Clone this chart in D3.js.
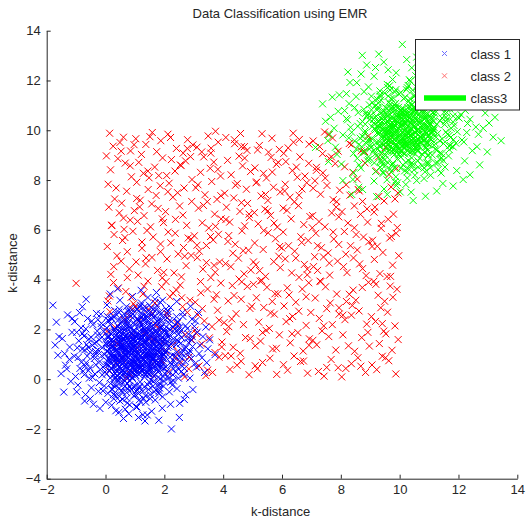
<!DOCTYPE html>
<html>
<head>
<meta charset="utf-8">
<script src="https://cdn.jsdelivr.net/npm/d3@7"></script>
<style>
  body { margin: 0; background: #fff; }
  text { font-family: "Liberation Sans", Arial, sans-serif; fill: #262626; }
</style>
</head>
<body>
<div id="chart"></div>
<script>
// chart text
const title = "Data Classification using EMR"
const xLabel = "k-distance"
const yLabel = "k-distance"
const xTicks = [-2, 0, 2, 4, 6, 8, 10, 12, 14]
const yTicks = [-4, -2, 0, 2, 4, 6, 8, 10, 12, 14]
const legendNames = ["class 1", "class 2", "class3"]

// class 1 points (blue cluster)
const class1 = [
[0.62,1.35],[1.48,0.21],[2.07,1.84],[0.13,0.77],[1.21,2.46],[-0.34,1.02],[0.88,-0.41],[1.93,0.66],[0.45,1.91],[1.67,1.12],
[0.97,0.55],[-0.72,0.18],[2.41,1.39],[1.05,1.68],[0.31,-0.23],[1.82,2.27],[0.59,0.94],[1.36,-0.67],[-0.15,2.11],[2.68,0.43],
[1.14,1.03],[0.76,2.73],[1.59,0.84],[0.02,1.46],[2.22,-0.12],[0.84,0.31],[1.73,1.57],[-1.06,0.92],[0.49,-0.88],[1.28,2.05],
[2.95,1.71],[0.37,1.19],[1.61,-0.29],[0.93,1.64],[-0.48,-0.35],[1.99,0.97],[0.68,2.38],[1.42,0.47],[0.19,0.62],[2.36,2.19],
[1.07,-1.12],[0.55,1.53],[1.88,1.28],[-0.27,1.77],[1.33,0.72],[0.81,-0.06],[2.54,0.88],[0.26,2.52],[1.52,1.94],[1.01,0.39],
[-0.91,1.54],[2.13,2.61],[0.71,0.11],[1.24,1.41],[0.08,-0.57],[1.79,0.28],[0.43,1.07],[3.21,1.36],[1.16,2.89],[0.64,0.68],
[1.69,-0.84],[-0.09,0.49],[2.01,1.62],[0.89,1.22],[1.45,2.34],[0.29,0.03],[2.78,2.03],[1.11,0.86],[-0.61,2.44],[1.57,0.58],
[0.52,1.74],[2.29,0.17],[0.98,-0.32],[1.37,1.49],[-1.32,0.41],[1.84,1.06],[0.16,1.27],[0.73,2.17],[2.47,1.52],[1.19,0.24],
[0.35,-1.27],[1.63,1.81],[0.91,0.73],[2.17,-0.51],[-0.38,0.83],[1.26,1.17],[0.58,0.36],[1.95,2.48],[0.04,2.06],[3.04,0.62],
[1.39,0.99],[0.79,1.44],[-0.21,-0.14],[1.72,2.79],[1.03,0.14],[2.61,1.17],[0.41,0.87],[1.54,-0.03],[0.67,1.99],[1.91,1.33],
[-0.79,1.21],[1.12,-0.58],[0.23,1.58],[2.33,0.74],[0.86,2.54],[1.49,0.52],[-0.02,0.29],[1.78,1.71],[0.54,-0.47],[1.22,3.06],
[2.84,1.03],[0.66,0.97],[1.41,1.87],[0.11,2.33],[1.97,0.09],[0.94,1.31],[-1.18,-0.09],[1.65,1.24],[0.32,0.51],[2.19,2.36],
[1.08,0.62],[0.47,2.81],[1.85,-0.19],[-0.45,1.36],[1.31,0.94],[0.72,-0.76],[2.56,1.94],[0.18,0.96],[1.58,2.12],[0.99,1.51],
[3.37,0.27],[0.61,0.24],[1.27,-1.43],[-0.12,1.69],[2.04,1.19],[0.83,0.79],[1.46,1.63],[0.39,-0.02],[1.74,0.41],[-0.66,0.66],
[1.17,2.26],[2.43,-0.38],[0.56,1.29],[1.35,0.18],[0.01,-0.93],[1.89,2.09],[0.77,1.83],[2.71,0.71],[1.04,1.09],[-0.31,2.64],
[1.62,0.77],[0.28,1.42],[2.26,1.47],[0.92,0.02],[1.51,2.67],[-0.98,1.88],[0.69,0.58],[1.94,-0.71],[0.14,0.34],[1.23,1.72],
[2.63,2.52],[0.46,-0.18],[1.81,1.43],[1.06,2.41],[-0.55,0.04],[1.34,0.63],[0.85,1.16],[2.09,0.33],[0.34,1.87],[1.71,-0.43],
[0.06,1.12],[1.43,2.01],[2.91,1.58],[0.74,0.44],[1.18,-0.11],[-1.47,1.63],[1.98,1.01],[0.51,2.22],[1.29,0.81],[0.22,-0.39],
[1.56,1.36],[2.38,0.58],[0.96,1.96],[-0.19,0.71],[1.64,0.13],[0.63,1.61],[2.11,2.73],[1.13,0.48],[0.38,2.58],[1.87,0.89],
[-0.68,-0.62],[1.38,1.26],[0.82,-1.03],[2.49,1.81],[0.12,1.91],[1.53,0.92],[0.95,0.27],[1.76,2.31],[0.44,0.74],[3.12,1.89],
[1.21,1.58],[-0.04,-0.27],[2.06,0.49],[0.71,1.32],[1.44,3.28],[0.27,0.16],[1.92,1.67],[0.87,0.66],[-1.23,0.79],[1.66,1.04],
[0.57,2.04],[2.31,-0.07],[1.09,1.38],[0.36,0.82],[1.83,0.61],[-0.37,1.44],[1.25,2.19],[2.74,1.28],[0.65,-0.29],[1.47,0.35],
[0.09,1.66],[1.97,2.21],[0.78,1.02],[1.32,-0.31],[2.58,0.31],[-0.83,2.06],[1.02,0.93],[0.48,1.47],[1.69,1.92],[0.21,0.44],
[2.16,1.33],[1.15,-0.83],[0.59,0.85],[1.86,0.02],[-0.26,1.18],[1.39,2.44],[0.92,1.76],[2.44,2.28],[0.33,-0.64],[1.59,1.21],
[1.01,0.17],[3.48,1.22],[0.17,2.19],[1.77,0.54],[0.69,1.23],[-0.58,0.34],[1.28,1.89],[2.03,1.09],[0.42,0.58],[1.51,-0.14],
[-1.62,0.96],[2.87,0.04],[0.05,2.98],[1.94,3.17],[0.61,-1.58],[2.21,-1.01],[-1.05,2.31],[3.06,2.34],[1.34,-1.68],[-0.71,-0.88],
[0.81,1.11],[1.41,0.66],[0.53,1.36],[1.19,1.88],[0.98,0.49],[1.61,1.49],[0.71,0.77],[1.27,1.05],[0.89,1.69],[1.52,0.87],
[0.44,1.01],[1.08,0.34],[1.73,1.31],[0.63,1.84],[1.36,0.97],[0.92,1.37],[1.17,0.71],[0.31,1.23],[1.84,0.76],[0.76,0.42],
[1.46,1.74],[1.01,1.21],[0.57,0.62],[1.24,0.58],[0.86,2.06],[1.66,1.58],[0.24,0.88],[1.12,1.63],[1.93,1.21],[0.68,1.14],
[1.31,0.24],[0.49,1.62],[1.57,1.02],[0.94,0.83],[1.14,2.12],[0.36,0.37],[1.78,1.88],[0.79,1.55],[1.49,0.41],[1.03,0.99],
[2.12,1.27],[0.15,1.39],[1.22,0.46],[0.87,1.26],[1.68,0.67],[0.55,2.32],[1.35,1.54],[0.73,0.19],[1.91,1.49],[1.06,1.82],
[0.41,0.71],[1.55,1.96],[0.97,0.64],[1.29,1.33],[0.62,1.08],[1.81,0.34],[0.19,1.81],[1.44,1.11],[0.84,0.96],[2.01,2.02],
[-0.13,0.94],[1.09,1.47],[0.66,1.73],[1.63,0.83],[0.95,2.27],[1.38,0.31],[0.27,1.54],[1.18,0.91],[1.72,1.96],[0.52,0.29],
[1.26,1.67],[0.83,0.12],[1.99,0.82],[0.39,1.18],[1.47,1.29],[0.74,2.44],[1.11,0.56],[0.58,1.39],[1.62,2.18],[0.99,0.73],
[2.27,0.97],[0.08,0.57],[1.33,1.99],[0.91,1.19],[1.54,0.68],[0.46,0.99],[1.07,1.43],[1.76,1.13],[0.69,0.51],[1.42,2.31],
[0.29,2.01],[1.87,1.59],[1.04,0.29],[0.61,1.57],[1.59,0.47],[0.86,1.43],[1.23,2.52],[0.47,0.47],[2.07,1.49],[1.16,1.16],
[0.73,0.91],[1.48,1.59],[0.35,1.76],[1.93,0.58],[1.02,1.71],[0.56,0.16],[1.37,1.38],[0.81,2.11],[1.69,1.01],[0.18,0.69],
[1.28,0.79],[0.94,1.58],[2.18,1.76],[0.51,1.27],[1.14,0.41],[1.79,2.39],[0.67,1.01],[1.41,0.89],[0.23,1.28],[1.86,1.22],
[0.88,0.63],[1.53,1.77],[0.42,2.13],[1.21,1.24],[1.97,0.42],[0.74,1.66],[1.06,0.81],[0.33,0.92],[1.64,1.39],[1.19,2.33],
[0.59,0.33],[2.31,1.62],[0.97,1.28],[1.45,0.59],[0.12,1.48],[1.71,0.97],[0.79,0.68],[1.33,1.81],[0.48,1.68],[1.92,1.84],
[-0.87,0.43],[2.52,2.07],[0.28,-0.79],[1.81,-0.58],[-0.43,2.19],[2.66,0.19],[0.71,2.91],[1.56,2.86],[-0.24,-0.49],[2.37,0.92],
[0.04,0.21],[1.14,-0.34],[2.09,2.46],[-0.52,1.08],[0.66,-0.08],[1.88,2.62],[0.22,2.41],[2.42,1.08],[1.27,-0.49],[-0.11,1.26],
[0.93,2.61],[2.21,0.67],[0.39,0.13],[1.68,2.55],[-0.73,1.73],[1.02,-0.63],[2.58,1.68],[0.16,0.05],[1.42,2.68],[0.75,-0.17],
[2.02,0.22],[-0.33,0.58],[1.31,2.79],[0.57,-0.52],[1.79,-0.21],[-0.96,1.26],[2.29,2.09],[0.45,2.69],[1.19,-0.92],[2.83,1.46],
[-0.06,1.91],[1.63,-0.09],[0.84,2.84],[2.14,0.04],[0.31,-0.31],[1.49,2.97],[-0.62,0.93],[2.46,0.43],[0.99,-0.24],[0.07,2.51],
[-1.79,2.97],[-1.42,-0.52],[3.28,0.86],[2.24,-2.0],[2.51,-1.54],[1.81,-1.65],[-1.29,2.58],[3.54,1.58],[0.41,3.63],[1.73,3.48],
[-1.14,1.88],[3.16,2.68],[0.46,-1.33],[2.97,-0.42],[-0.66,3.21],[1.42,-1.44],[-1.51,0.22],[3.72,0.98],[2.42,3.12],[-0.94,-0.24],
[0.16,3.42],[1.03,-1.11],[-1.71,1.37],[2.68,-0.82],[3.41,2.09],[-0.41,-1.01],[1.21,3.57],[2.89,2.93],[-1.36,0.56],[0.79,-1.39],
[1.07,1.05],[0.71,1.47],[1.36,0.73],[0.89,1.83],[1.58,1.31],[0.54,0.84],[1.22,1.61],[0.96,0.37],[1.77,1.54],[0.32,1.12],
[1.44,0.99],[0.83,1.28],[1.16,1.92],[0.62,0.53],[1.91,1.04],[1.04,1.54],[0.44,1.51],[1.51,0.18],[0.78,0.87],[1.29,2.07],
[0.12,0.86],[1.67,1.69],[0.91,0.08],[1.38,1.17],[0.58,1.92],[2.04,1.42],[0.81,1.06],[1.24,0.37],[0.36,1.63],[1.74,0.62],
[1.09,2.39],[0.64,0.77],[1.49,1.44],[0.22,1.03],[1.83,0.91],[0.99,1.14],[1.31,1.73],[0.51,0.41],[2.16,2.01],[0.87,1.52],
[1.62,0.22],[0.27,1.34],[1.12,0.78],[0.76,2.28],[1.41,1.07],[0.07,1.73],[1.93,1.66],[0.68,0.26],[1.21,1.36],[0.97,1.98],
[0.43,0.59],[1.56,1.86],[0.86,0.54],[1.34,1.48],[1.88,0.47],[0.52,1.43],[1.11,1.01],[0.72,1.76],[1.61,0.91],[1.01,0.64],
[2.08,1.13],[0.33,0.24],[1.47,2.14],[0.94,1.09],[1.26,0.52],[0.61,1.33],[1.72,1.27],[0.18,1.57],[1.17,1.79],[0.83,0.36],
[1.53,0.76],[0.47,2.04],[1.96,1.97],[1.04,0.87],[0.69,1.19],[1.32,0.09],[0.39,0.79],[1.81,1.51],[0.92,1.46],[1.43,2.49],
[-0.21,1.58],[2.34,1.87],[0.47,-0.36],[1.86,2.71],[-0.64,1.39],[2.61,0.52],[0.19,2.47],[1.51,-0.62],[-0.36,0.21],[2.17,2.24],
[0.88,2.67],[2.48,0.04],[-0.09,-0.47],[1.33,2.91],[-0.82,0.68],[2.79,1.62],[0.58,-0.81],[1.97,-0.28],[-0.47,2.33],[2.23,1.41],
[0.14,1.06],[1.64,2.47],[-0.18,0.38],[2.41,2.51],[0.72,-0.54],[1.29,-0.77],[-0.57,1.61],[2.69,1.21],[0.31,2.76],[1.83,-0.47],
[-0.93,0.87],[2.06,2.82],[0.43,-0.05],[1.12,2.73],[-0.28,1.93],[2.53,0.71],[0.96,-0.67],[1.71,2.24],[0.02,0.58],[2.27,-0.24],
[0.61,2.49],[1.46,-0.41],[-0.71,1.17],[2.87,1.13],[0.27,-0.62],[1.91,2.36],[-0.14,2.24],[2.39,0.29],[1.07,2.82],[0.38,0.31],
[-0.44,0.07],[2.14,1.71],[0.81,-0.29],[1.58,2.58],[-0.67,2.02],[2.92,0.83],[0.11,1.73],[1.37,-0.93],[-0.31,1.49],[2.46,2.31],
[0.69,2.29],[1.99,-0.09],[-0.03,0.99],[1.24,2.63],[-0.53,0.46],[2.56,1.44],[0.47,-0.69],[1.76,2.93],[0.09,2.37],[2.31,0.41],
[1.43,-0.22],[-0.78,1.84],[2.72,2.14],[0.36,0.06],[1.09,-0.45],[-0.16,2.61],[2.19,0.88],[0.84,2.72],[1.66,-0.51],[-0.39,0.94],
[2.02,1.93],[0.53,0.04],[1.31,2.39],[-0.58,1.28],[2.66,0.93],[0.22,-0.42],[1.87,2.04],[0.76,-0.39],[-0.26,2.39],[2.43,1.58],
[1.16,-0.28],[0.04,1.38],[2.11,0.12],[0.63,2.63],[1.52,-0.78],[-0.69,0.54],[2.82,1.81],[0.32,1.96],[1.79,0.07],[-0.11,0.17],
[0.92,2.46],[2.24,0.58],[0.17,-0.18],[1.62,2.81],[-0.49,1.68],[2.59,1.04],[0.74,-0.96],[1.38,2.54],[0.06,0.73],[2.36,2.02],
[1.04,-0.48],[-0.34,1.11],[2.47,1.96],[0.44,2.38],[1.84,-0.36],[-0.76,0.32],[2.96,1.31],[0.26,0.84],[1.19,2.97],[0.58,-0.12],
[1.74,1.83],[0.12,1.21],[1.41,0.26],[0.67,1.71],[2.04,1.58],[0.86,0.22],[1.28,1.52],[0.34,0.66],[1.96,0.71],[0.99,2.17],
[1.56,1.08],[0.49,1.89],[1.18,0.62],[0.71,2.08],[1.89,1.37],[0.28,0.97],[1.49,2.19],[0.93,0.47],[1.68,0.54],[0.57,1.24],
[1.23,0.88],[0.81,1.71],[1.64,1.62],[0.38,1.43],[1.13,0.19],[1.92,0.93],[0.64,1.04],[1.36,1.87],[0.89,1.01],[1.57,0.38],
[0.19,0.44],[2.08,1.74],[1.02,1.36],[0.54,0.73],[1.47,1.17],[0.78,2.01],[1.81,0.66],[0.41,1.66],[1.26,0.42],[0.97,1.88],
[-1.22,1.29],[3.09,0.48],[-0.98,-0.51],[3.31,1.71],[0.67,-1.21],[1.68,3.21],[-1.13,2.44],[2.73,-0.63],[0.21,-1.05],[2.21,2.88],
[-0.88,2.67],[3.18,1.03],[1.93,-1.17],[-1.39,1.02],[0.92,3.32],[2.52,-0.97],[-0.52,-0.79],[3.02,2.12],[-1.58,1.71],[1.57,-1.29],
[0.49,3.17],[2.62,2.67],[-1.02,0.11],[3.44,0.66],[1.12,-1.54],[-0.79,2.91],[2.94,2.41],[-0.19,-1.18],[1.86,3.09],[-1.67,2.29]
]

// class 2 points (red, spread over the middle square)
const class2 = [
[0.12,0.34],[0.57,0.81],[0.83,0.22],[0.36,0.63],[0.71,0.05],[0.24,1.47],[0.66,1.18],[0.91,1.76],[0.05,1.92],[0.48,1.31],
[0.33,2.08],[0.79,2.56],[0.15,2.71],[0.62,2.39],[0.08,3.14],[0.44,3.67],[0.87,3.29],[0.27,3.88],[0.69,3.52],[0.95,3.03],
[0.18,4.21],[0.53,4.74],[0.81,4.43],[0.39,4.96],[0.06,5.33],[0.29,5.81],[0.74,5.12],[0.58,5.57],[0.93,5.94],
[0.21,6.17],[0.47,6.68],[0.84,6.39],[0.11,6.91],[0.63,6.02],[0.98,6.77],[0.31,7.24],[0.72,7.55],[0.09,7.83],[0.55,7.07],
[0.17,8.41],[0.42,8.86],[0.88,8.13],[0.67,8.68],[0.03,8.97],[0.26,9.36],[0.61,9.72],[0.85,9.17],[0.14,9.88],[0.49,9.51],
[1.21,0.47],[1.64,0.13],[1.89,0.76],[1.38,0.92],[1.07,1.24],[1.52,1.63],[1.81,1.08],[1.33,1.89],[1.96,1.51],
[1.15,2.36],[1.46,2.81],[1.73,2.17],[1.59,2.64],[1.02,2.93],[1.27,3.42],[1.68,3.06],[1.91,3.71],[1.44,3.94],
[1.11,4.18],[1.36,4.63],[1.77,4.37],[1.58,4.89],[1.93,4.07],[1.04,4.71],[1.24,5.26],[1.62,5.71],[1.87,5.43],[1.41,5.97],
[1.09,6.34],[1.53,6.12],[1.79,6.86],[1.31,6.57],[1.97,6.29],[1.18,7.19],[1.45,7.62],[1.72,7.38],[1.06,7.91],[1.86,7.77],[1.57,7.04],
[1.29,8.27],[1.67,8.52],[1.94,8.89],[1.13,8.71],[1.48,8.09],[1.37,9.43],[1.74,9.14],[1.03,9.66],[1.59,9.91],[1.88,9.58],[1.22,9.03],
[2.14,0.28],[2.57,0.67],[2.83,0.41],[2.36,0.86],[2.69,0.09],[2.28,1.36],[2.71,1.79],[2.05,1.12],[2.94,1.57],
[2.43,2.23],[2.78,2.68],[2.11,2.47],[2.62,2.91],[2.31,2.06],[2.19,3.31],[2.54,3.78],[2.87,3.17],[2.41,3.58],[2.06,3.92],
[2.33,4.27],[2.74,4.56],[2.09,4.83],[2.58,4.11],[2.91,4.97],[2.22,5.48],[2.47,5.03],[2.81,5.67],[2.13,5.91],[2.65,5.29],
[2.38,6.42],[2.76,6.18],[2.04,6.73],[2.52,6.96],[2.29,7.31],[2.67,7.68],[2.93,7.14],[2.16,7.87],[2.45,7.49],
[2.36,8.36],[2.72,8.77],[2.08,8.18],[2.57,8.58],[2.89,8.94],[2.24,8.82],[2.41,9.27],[2.79,9.62],[2.12,9.84],[2.64,9.08],[2.97,9.41],
[3.18,0.53],[3.64,0.27],[3.86,0.88],[3.41,0.14],[3.27,1.41],[3.72,1.07],[3.09,1.83],[3.53,1.66],[3.95,1.29],
[3.36,2.34],[3.81,2.77],[3.14,2.58],[3.62,2.11],[3.24,3.47],[3.69,3.21],[3.92,3.86],[3.47,3.62],[3.05,3.09],[3.77,3.39],
[3.31,4.42],[3.58,4.08],[3.88,4.71],[3.12,4.88],[3.73,4.29],[3.43,5.37],[3.84,5.82],[3.19,5.14],[3.66,5.59],[3.02,5.76],
[3.29,6.28],[3.71,6.63],[3.51,6.07],[3.93,6.44],[3.16,6.87],[3.38,7.41],[3.79,7.22],[3.07,7.69],[3.61,7.94],[3.46,7.13],
[3.23,8.31],[3.68,8.72],[3.91,8.16],[3.34,8.93],[3.56,8.47],[3.11,9.32],[3.49,9.77],[3.83,9.52],[3.27,9.13],[3.74,9.96],[3.59,9.28],
[4.23,0.39],[4.61,0.72],[4.88,0.18],[4.07,0.94],[4.47,0.56],[4.34,1.28],[4.76,1.67],[4.12,1.91],[4.58,1.04],
[4.29,2.42],[4.69,2.19],[4.91,2.84],[4.44,2.63],[4.03,2.27],[4.37,3.36],[4.82,3.72],[4.17,3.14],[4.63,3.91],
[4.26,4.52],[4.71,4.23],[4.52,4.86],[4.08,4.64],[4.94,4.38],[4.41,5.42],[4.86,5.18],[4.19,5.77],[4.64,5.96],[4.33,5.06],
[4.22,6.31],[4.57,6.74],[4.89,6.49],[4.11,6.91],[4.73,6.16],[4.36,7.28],[4.79,7.63],[4.05,7.47],[4.62,7.09],[4.48,7.86],
[4.27,8.21],[4.66,8.57],[4.93,8.34],[4.15,8.79],[4.54,8.96],[4.39,9.46],[4.81,9.19],[4.09,9.71],[4.59,9.87],[4.72,9.34],
[5.16,0.42],[5.59,0.84],[5.82,0.19],[5.34,0.67],[5.27,1.53],[5.68,1.21],[5.91,1.78],[5.09,1.34],[5.46,1.96],
[5.21,2.29],[5.74,2.61],[5.38,2.88],[5.57,2.04],[5.13,3.27],[5.49,3.69],[5.86,3.43],[5.31,3.96],[5.67,3.12],[5.03,3.81],
[5.24,4.36],[5.72,4.72],[5.44,4.13],[5.89,4.94],[5.11,4.59],[5.36,5.21],[5.78,5.64],[5.07,5.47],[5.53,5.88],[5.92,5.33],
[5.19,6.24],[5.61,6.58],[5.84,6.11],[5.42,6.83],[5.06,6.69],[5.29,7.36],[5.71,7.71],[5.52,7.18],[5.94,7.52],[5.14,7.92],
[5.37,8.27],[5.81,8.63],[5.08,8.49],[5.63,8.91],[5.47,8.08],[5.23,9.39],[5.66,9.68],[5.91,9.23],[5.32,9.86],[5.54,9.12],
[6.19,0.36],[6.63,0.71],[6.87,0.24],[6.41,0.93],[6.05,0.58],[6.28,1.46],[6.72,1.13],[6.54,1.87],[6.93,1.62],
[6.14,2.31],[6.57,2.73],[6.82,2.16],[6.36,2.52],[6.07,2.94],[6.24,3.38],[6.69,3.62],[6.47,3.09],[6.91,3.87],
[6.33,4.27],[6.76,4.61],[6.11,4.83],[6.58,4.09],[6.86,4.42],[6.22,5.36],[6.64,5.72],[6.43,5.14],[6.89,5.57],[6.04,5.91],
[6.31,6.44],[6.74,6.21],[6.17,6.78],[6.56,6.97],[6.95,6.53],[6.27,7.31],[6.68,7.64],[6.42,7.12],[6.84,7.89],[6.09,7.56],
[6.35,8.38],[6.78,8.16],[6.13,8.74],[6.61,8.93],[6.49,8.52],[6.21,9.29],[6.59,9.63],[6.92,9.44],[6.38,9.88],[6.06,9.07],
[7.24,0.31],[7.67,0.79],[7.91,0.46],[7.43,0.12],[7.18,1.38],[7.59,1.71],[7.83,1.17],[7.36,1.94],[7.05,1.56],
[7.27,2.44],[7.71,2.19],[7.52,2.83],[7.94,2.61],[7.13,3.26],[7.48,3.71],[7.86,3.42],[7.32,3.92],[7.64,3.06],
[7.21,4.37],[7.62,4.18],[7.89,4.74],[7.41,4.91],[7.07,4.52],[7.34,5.28],[7.76,5.63],[7.15,5.86],[7.57,5.07],[7.93,5.41],
[7.26,6.33],[7.69,6.68],[7.46,6.12],[7.84,6.91],[7.04,6.57],[7.31,7.43],[7.74,7.21],[7.53,7.78],[7.96,7.59],[7.12,7.97],
[7.39,8.29],[7.81,8.66],[7.17,8.51],[7.61,8.87],[7.47,8.08],[7.28,9.34],[7.72,9.69],[7.91,9.16],[7.45,9.93],[7.06,9.57],
[8.17,0.43],[8.58,0.86],[8.84,0.27],[8.36,0.62],[8.03,0.09],[8.26,1.34],[8.71,1.67],[8.47,1.12],[8.92,1.88],
[8.14,2.39],[8.62,2.74],[8.88,2.21],[8.39,2.96],[8.07,2.57],[8.29,3.41],[8.73,3.68],[8.51,3.17],[8.94,3.89],
[8.21,4.28],[8.64,4.63],[8.43,4.87],[8.86,4.16],[8.09,4.52],[8.33,5.36],[8.77,5.71],[8.12,5.93],[8.56,5.19],[8.95,5.52],
[8.24,6.27],[8.67,6.62],[8.46,6.08],[8.89,6.84],[8.04,6.73],[8.31,7.39],[8.74,7.14],[8.18,7.81],[8.59,7.62],
[8.41,8.31],[8.82,8.69],[8.13,8.53],[8.36,9.42],[8.69,9.17],[8.93,9.76],
[9.22,0.38],[9.63,0.74],[9.87,0.21],[9.41,0.92],[9.06,0.57],[9.31,1.43],[9.74,1.16],[9.53,1.82],[9.95,1.59],
[9.18,2.32],[9.59,2.69],[9.84,2.14],[9.36,2.87],[9.04,2.51],[9.27,3.37],[9.68,3.74],[9.49,3.13],[9.91,3.61],[9.12,3.93],
[9.33,4.24],[9.76,4.58],[9.14,4.81],[9.57,4.12],[9.97,4.96],[9.24,5.34],[9.66,5.67],[9.43,5.09],[9.88,5.86],[9.08,5.58],
[9.38,6.26],[9.79,6.63],[9.16,6.91],[9.61,6.42],[9.92,6.09],[9.29,7.34],[9.71,7.72],[9.47,7.16],[9.94,7.48],
[9.21,8.37],[9.64,8.22],[9.52,9.31],
[3.57,5.73],[6.82,3.31],[1.44,8.36],[8.17,5.02],[4.92,1.63],[2.63,6.59],[7.38,9.06],[5.26,3.94],[0.74,4.08],[9.41,2.23],
[6.11,7.83],[3.04,1.97],[8.56,8.04],[1.87,5.12],[5.73,6.27],[4.38,9.62],[7.94,2.87],[2.29,3.46],[9.13,6.71],[0.36,7.68],
[6.47,4.86],[3.82,8.43],[5.09,0.54],[8.74,4.44],[1.16,6.92],[7.03,6.08],[4.61,3.21],[2.78,9.27],[9.69,4.13],[5.87,8.71],
[0.92,2.81],[6.92,1.36],[3.33,6.98],[8.29,9.47],[4.16,5.53],[1.67,0.68],[7.61,4.66],[5.44,7.42],[2.46,1.11],[9.28,8.93],
[6.26,2.43],[3.69,4.57],[8.91,6.31],[0.53,9.16],[4.83,7.06],[7.17,8.39],[1.98,4.29],[5.61,2.66],[9.84,7.24],[2.94,8.02],
[6.67,5.49],[4.27,0.93],[8.42,3.58],[1.31,3.73],[7.86,7.13],[3.11,5.38],[5.17,9.21],[9.52,0.86],[0.21,6.19],[6.04,6.87],
[4.54,4.02],[2.12,7.53],[8.07,1.78],[7.29,3.94],[3.86,2.37],[5.94,4.48],[1.51,9.74],[9.06,5.33],[6.39,9.52],[2.69,4.94],
[4.73,8.88],[7.52,0.47],[0.66,5.69],[8.63,7.56],[3.47,0.36],[5.38,5.97],[1.79,2.04],[9.77,3.29],[6.58,7.39],[2.37,5.86],
[4.09,6.41],[7.74,5.91],[5.81,1.24],[0.13,3.34],[8.36,2.57],[3.58,9.08],[6.91,8.67],[1.06,7.26],[9.37,6.06],[4.97,2.93],
[2.84,0.89],[7.06,7.67],[5.52,6.76],[8.97,1.33],[0.84,8.57],[6.18,3.67],[3.23,3.92],[4.42,7.79],[9.61,9.58],[1.93,6.44],
[7.42,2.14],[5.03,4.71],[2.54,8.61],[8.52,5.81],[3.96,1.49],[6.73,0.73],[0.42,1.42],[4.68,5.16],[9.19,3.81],[1.38,4.87],
[5.67,8.32],[7.93,6.52],[3.14,7.81],[6.34,1.82],[2.07,2.63],[8.81,9.14],[4.31,3.76],[0.97,9.42],[5.99,5.27],[7.68,8.93],
[3.74,6.14],[9.46,1.93],[1.63,1.58],[6.86,4.19],[2.91,5.62],[8.19,3.12],[4.88,6.63],[5.34,1.87],[0.28,4.52],[7.21,5.36],
[3.43,4.68],[6.52,8.11],[1.24,5.51],[8.68,0.52],[4.19,2.11],[9.89,8.47],[2.21,9.71],[5.76,3.43],[7.57,9.83],[0.61,6.47],
[6.98,2.68],[3.29,2.83],[8.46,6.96],[4.62,9.34],[1.81,8.18],[5.12,7.89],[9.72,5.73],[2.59,3.27],[7.11,4.92],[3.92,7.37],
[-1.0,3.85]
]

// class 3 points (green cluster)
const class3 = [
[9.74,10.31],[10.62,9.15],[11.21,10.78],[9.23,9.52],[10.35,11.27],[8.81,9.88],[10.04,8.47],[11.07,9.63],[9.51,10.92],[10.83,10.03],
[10.12,9.41],[8.43,9.07],[11.56,10.36],[10.19,10.64],[9.38,8.72],[10.96,11.18],[9.67,9.89],[10.52,8.19],[8.97,11.02],[11.82,9.33],
[10.28,9.94],[9.87,11.63],[10.71,9.75],[9.11,10.43],[11.37,8.83],[9.95,9.22],[10.88,10.51],[8.07,9.81],[9.57,8.01],[10.41,11.01],
[12.09,10.62],[9.46,10.11],[10.76,8.58],[10.02,10.55],[8.62,8.61],[11.13,9.92],[9.79,11.29],[10.57,9.36],[9.31,9.53],[11.48,11.12],
[10.21,7.82],[9.63,10.44],[11.02,10.19],[8.84,10.68],[10.47,9.64],[9.92,8.86],[11.68,9.79],[9.34,11.43],[10.66,10.85],[10.16,9.28],
[8.19,10.47],[11.27,11.52],[9.82,9.02],[10.37,10.32],[9.18,8.34],[10.94,9.19],[9.52,9.98],[12.31,10.27],[10.29,11.8],[9.76,9.57],
[10.83,8.06],[9.01,9.41],[11.16,10.53],[10.02,10.13],[10.59,11.25],[9.41,8.93],[11.92,10.94],[10.24,9.77],[8.52,11.35],[10.71,9.49],
[9.66,10.65],[11.43,9.06],[10.11,8.61],[10.49,10.38],[7.82,9.32],[10.98,9.97],[9.27,10.18],[9.86,11.08],[11.61,10.43],[10.33,9.13],
[9.47,7.64],[10.77,10.72],[10.05,9.62],[11.31,8.42],[8.74,9.74],[10.39,10.08],[9.72,9.27],[11.09,11.39],[9.16,10.97],[12.18,9.53],
[10.52,9.9],[9.93,10.35],[8.91,8.77],[10.86,11.69],[10.17,9.05],[11.75,10.08],[9.55,9.78],[10.68,8.88],[9.81,10.9],[11.04,10.24],
[8.33,10.12],[10.26,8.33],[9.37,10.49],[11.45,9.65],[9.98,11.45],[10.61,9.43],[9.12,9.2],[10.92,10.62],[9.68,8.44],[10.36,11.97],
[11.96,9.94],[9.78,9.88],[10.53,10.78],[9.24,11.24],[11.11,9.0],[10.07,10.22],[8.95,8.82],[10.79,10.15],[9.44,9.42],[11.33,11.27],
[10.22,9.53],[9.59,11.72],[10.97,8.71],[8.66,10.27],[10.44,9.85],[9.84,7.93],[11.71,10.85],[9.29,9.87],[10.69,11.03],[10.12,10.42],
[12.47,9.18],[9.73,9.15],[10.39,7.51],[9.01,10.6],[11.18,10.1],[9.96,9.7],[10.58,10.54],[9.52,8.98],[10.87,9.32],[8.47,9.57],
[10.31,11.17],[11.54,8.52],[9.68,10.2],[10.47,9.09],[9.13,7.96],[11.02,11.0],[9.89,10.74],[11.83,9.62],[10.16,10.0],[8.79,11.55],
[10.74,9.68],[9.4,10.33],[11.37,10.38],[10.04,8.92],[10.63,11.58],[8.13,10.79],[9.81,9.49],[11.05,8.19],[9.26,9.25],[10.35,10.63],
[11.74,11.43],[9.58,8.72],[10.93,10.34],[10.18,11.32],[8.56,8.87],[10.46,9.54],[9.97,10.07],[11.21,9.24],[9.46,10.78],[10.83,8.48],
[9.18,10.03],[10.54,10.92],[12.02,10.49],[9.86,9.35],[10.29,8.79],[7.65,10.52],[11.09,9.92],[9.63,11.13],[10.4,9.72],[9.34,8.51],
[10.68,10.27],[11.49,9.47],[10.07,10.87],[8.92,9.6],[10.76,9.04],[9.74,10.52],[11.22,11.64],[10.24,9.39],[9.49,11.49],[10.98,9.8],
[8.44,8.29],[10.49,10.17],[9.93,7.89],[11.6,10.71],[9.23,10.82],[10.64,9.83],[10.06,9.18],[10.87,11.22],[9.55,9.65],[12.23,10.8],
[10.32,10.49],[8.97,9.24],[11.17,9.4],[9.82,10.23],[10.55,12.19],[9.38,9.07],[11.03,10.58],[9.98,9.57],[8.27,9.69],[10.77,10.05],
[9.68,11.04],[11.42,8.9],[10.2,10.28],[9.47,9.73],[10.94,9.52],[8.74,10.35],[10.36,11.09],[11.85,10.19],[9.76,8.62],[10.58,9.26],
[9.2,10.57],[11.08,11.11],[9.89,9.93],[10.43,8.6],[11.69,9.22],[8.28,11.07],[10.13,9.84],[9.59,10.38],[10.8,10.83],[9.32,9.35],
[11.27,10.24],[10.26,8.08],[9.7,9.76],[10.97,9.02],[9.15,10.08],[10.5,11.35],[10.03,10.67],[11.55,11.19],[9.44,8.27],[10.7,10.12],
[10.12,9.08],[12.59,10.13],[9.28,11.09],[10.88,9.45],[9.8,10.14],[8.53,9.25],[10.39,10.79],[11.14,10.0],[9.53,9.49],[10.62,8.77],
[7.38,11.06],[7.95,11.42],[8.31,11.92],[8.69,12.26],[9.18,12.52],[9.88,12.31],[10.09,13.45],[8.61,7.71],[9.22,7.33],[10.88,7.35],
[13.18,9.72],[12.91,10.69],[13.45,9.58],[12.72,8.61],[11.54,12.38],[12.07,11.91],[8.73,13.01],[10.72,12.77],[11.27,12.66],[7.14,9.31],
[7.58,8.74],[8.07,7.98],[11.82,7.76],[12.39,8.21],[12.76,11.26],[10.41,12.51],[9.46,12.74],[11.96,12.16],[7.77,10.08],[12.98,9.13],
[10.18,9.77],[9.82,10.19],[10.47,9.42],[9.99,10.56],[10.69,9.98],[9.64,9.58],[10.31,10.34],[10.06,9.21],[10.87,10.47],[9.43,10.01],
[10.56,10.69],[9.91,9.31],[10.28,10.91],[9.72,9.93],[11.02,9.66],[10.14,10.31],[9.56,10.63],[10.61,9.19],[9.87,9.71],[10.39,10.07],
[9.23,9.89],[10.78,10.24],[10.02,9.08],[10.49,10.58],[9.69,10.89],[11.16,10.01],[9.93,9.52],[10.35,9.56],[9.47,9.43],[10.84,10.62],
[10.11,10.44],[9.61,9.99],[10.64,9.63],[10.22,10.73],[9.78,9.11],[10.93,9.89],[9.29,10.37],[10.42,10.24],[10.01,9.82],[11.08,10.49],
[9.51,9.61],[10.27,9.37],[9.86,10.44],[10.73,10.91],[10.09,9.64],[9.37,10.21],[10.52,9.94],[9.77,10.73],[11.24,9.72],[10.19,9.47],
[9.94,10.09],[10.66,10.28],[9.58,9.28],[10.37,9.79],[10.04,10.81],[9.08,9.64],[10.91,9.31],[10.27,10.16],[9.71,9.76],[10.48,10.92],
[10.82,9.59],[9.46,10.52],[10.14,9.91],[9.88,9.44],[10.59,10.41],[9.31,9.37],[11.03,10.29],[10.21,10.63],[9.79,10.27],[10.43,9.31],
[9.64,10.15],[10.71,9.71],[10.08,10.22],[9.97,9.01],[10.34,10.51],[9.53,9.84],[10.97,10.11],[10.16,9.62],[9.82,11.01],[10.62,9.99],
[9.39,10.72],[10.44,9.17],[10.03,9.57],[11.12,10.71],[9.74,10.04],[10.31,9.88],[9.61,9.17],[10.89,9.84],[10.26,10.38],[9.92,10.62],
[10.57,9.51],[9.49,9.98],[10.13,10.69],[10.76,10.36],[9.84,9.62],[10.38,9.99],[9.27,10.34],[10.94,9.47],[10.06,10.17],[9.69,9.35],
[8.62,9.43],[11.58,10.52],[9.04,11.37],[11.37,9.07],[8.88,10.56],[10.67,11.54],[9.71,8.33],[11.82,10.33],[8.47,10.91],[10.98,8.64],
[9.33,11.58],[11.45,11.02],[8.76,9.14],[10.26,11.71],[11.66,8.97],[9.14,8.69],[10.49,8.41],[8.37,9.92],[11.27,11.76],[9.58,11.84],
[12.12,9.61],[8.94,11.74],[10.83,11.91],[11.97,10.54],[8.68,8.48],[9.87,8.13],[11.41,8.28],[8.23,10.42],[10.33,12.03],[12.28,9.91],
[9.06,10.14],[11.29,9.87],[9.49,8.81],[10.61,11.24],[8.99,9.61],[11.51,10.72],[9.67,11.61],[10.97,8.97],[9.17,10.51],[11.13,11.48],
[8.83,10.24],[10.42,8.69],[11.63,9.84],[9.36,11.21],[10.86,8.33],[9.21,8.97],[11.36,10.94],[9.76,12.04],[10.58,7.98],[8.59,10.71],
[11.88,11.04],[9.51,8.58],[10.23,11.63],[11.72,9.39],[8.79,9.11],[10.73,11.78],[9.04,10.82],[11.22,8.68],[9.89,7.78],[12.39,10.44],
[10.24,10.11],[9.76,9.69],[10.51,10.48],[10.09,9.35],[9.57,10.36],[10.78,9.78],[10.33,10.96],[9.86,9.87],[10.64,9.37],[10.02,10.68],
[9.42,9.81],[10.87,10.18],[10.19,9.56],[9.63,10.79],[10.46,10.23],[9.95,9.27],[11.01,10.91],[10.29,9.74],[9.74,10.46],[10.55,9.61],
[10.13,10.86],[9.52,9.49],[10.72,10.56],[10.38,9.12],[9.91,10.33],[11.17,9.52],[9.66,10.08],[10.21,10.27],[10.91,9.89],[9.81,9.24],
[10.45,10.76],[9.35,10.14],[10.68,9.33],[10.06,10.52],[9.97,9.79],[10.82,10.74],[9.59,9.97],[10.36,9.47],[9.88,10.96],[11.05,10.38],
[8.97,10.42],[11.26,9.21],[9.44,8.32],[10.88,11.34],[8.71,9.34],[11.61,10.87],[9.82,8.49],[10.44,11.61],[9.07,11.11],[11.48,8.79],
[10.21,8.71],[8.82,9.97],[11.14,11.43],[9.61,11.37],[11.73,9.71],[8.94,8.93],[10.63,8.52],[9.27,10.93],[11.36,9.58],[10.04,11.52],
[8.58,10.16],[10.92,8.69],[9.71,11.28],[11.53,10.23],[9.18,9.06],[10.51,11.41],[11.82,10.57],[9.41,8.61],[10.76,10.98],[8.78,10.84],
[11.04,8.49],[9.57,10.87],[10.29,8.46],[11.41,11.17],[8.66,9.68],[10.86,9.12],[9.33,11.36],[11.68,9.37],[10.14,11.27],[9.02,9.32],
[10.58,11.72],[11.29,8.69],[9.77,8.68],[10.97,11.47],[8.91,10.62],[11.57,9.93],[9.49,9.04],[10.36,8.62],[10.83,11.58],[9.13,10.29],
[11.19,10.68],[9.83,11.54],[10.41,8.89],[8.87,9.48],[11.44,10.49],[9.36,8.79],[10.69,11.14],[11.91,9.48],[9.66,11.79],[10.17,8.37],
[9.92,10.23],[10.46,9.66],[9.71,9.52],[10.81,10.49],[10.27,9.19],[9.54,10.29],[11.07,9.74],[10.09,10.71],[9.39,9.71],[10.64,10.04],
[10.35,9.34],[9.96,10.92],[10.72,9.52],[9.67,10.24],[11.14,10.36],[10.11,9.72],[9.48,9.21],[10.53,10.83],[9.88,9.38],[10.94,10.18],
[10.22,10.06],[9.58,10.57],[10.86,9.93],[10.03,9.48],[9.74,10.88],[10.62,10.61],[9.32,9.89],[10.44,9.82],[11.01,9.42],[9.85,10.43],
[10.31,10.74],[9.62,9.47],[10.78,9.68],[10.16,10.57],[9.45,10.41],[10.57,9.27],[10.94,10.68],[9.79,10.11],[10.39,9.61],[9.98,9.92],
[10.67,10.37],[9.53,9.66],[10.24,9.91],[11.12,10.08],[9.91,10.56],[10.48,10.14],[9.71,9.83],[10.89,9.64],[10.07,10.29],[9.42,10.62],
[10.59,9.97],[9.86,9.19],[10.32,10.58],[10.76,10.79],[9.64,10.01],[10.18,9.41],[11.06,9.91],[9.97,10.47],[10.42,10.39],[9.28,10.06],
[7.62,9.84],[7.91,10.76],[8.19,11.47],[8.41,8.02],[12.34,11.62],[12.63,9.34],[11.94,8.38],[8.02,8.64],[9.61,12.43],[11.03,12.47],
[12.84,10.08],[7.48,10.36],[8.88,12.62],[10.24,12.84],[12.52,10.96],[11.62,12.08],[8.37,7.42],[10.46,7.18],[11.47,7.86],[12.21,8.77],
[9.13,12.17],[10.96,12.22],[12.41,11.54],[7.87,9.03],[8.54,11.91],[11.71,11.88],[12.68,9.84],[8.74,7.62],[10.02,7.52],[9.58,7.42],
[13.04,10.29],[7.71,11.33],[12.16,8.02],[11.26,7.56],[8.24,12.34],[10.58,12.94],[9.29,13.06],[12.88,11.62],[13.24,10.52],[7.56,9.58]
]

// set up the dimension for the chart
const W = 531, H = 522
const margin = { top: 30.7, right: 13.7, bottom: 43.3, left: 46.7 }
const width = W - margin.left - margin.right
const height = H - margin.top - margin.bottom

const svg = d3.select("#chart").append("svg")
    .attr("width", W)
    .attr("height", H)

const g = svg.append("g")
    .attr("transform", `translate(${margin.left}, ${margin.top})`)

const xScale = d3.scaleLinear().domain([-2, 14]).range([0, width])
const yScale = d3.scaleLinear().domain([-4, 14]).range([height, 0])

// axes, ticks pointing inward like matlab
const xAxis = d3.axisBottom(xScale).tickValues(xTicks).tickSizeInner(-4).tickSizeOuter(0).tickPadding(6)
const yAxis = d3.axisLeft(yScale).tickValues(yTicks).tickSizeInner(-4).tickSizeOuter(0).tickPadding(6)

// scatter markers, drawn red first then blue and green on top
const cross = "M-3.5,-3.5L3.5,3.5M-3.5,3.5L3.5,-3.5"
const series = [
  { data: class2, color: "#ff0000" },
  { data: class1, color: "#0000ff" },
  { data: class3, color: "#00ff00" }
]

series.forEach(s => {
  g.append("g")
    .selectAll("path")
    .data(s.data)
    .enter()
    .append("path")
    .attr("d", cross)
    .attr("transform", d => `translate(${xScale(d[0])}, ${yScale(d[1])})`)
    .attr("fill", "none")
    .attr("stroke", s.color)
    .attr("stroke-width", 1)
})

const gx = g.append("g")
    .attr("transform", `translate(0, ${height})`)
    .call(xAxis)
const gy = g.append("g").call(yAxis)

;[gx, gy].forEach(a => {
  a.selectAll("path, line").attr("stroke", "#262626")
  a.selectAll("text").style("font-size", "13px").attr("fill", "#262626")
  a.attr("font-family", null)
})

// title and labels
svg.append("text")
    .attr("x", 280)
    .attr("y", 18.3)
    .attr("text-anchor", "middle")
    .style("font-size", "13px")
    .text(title)

svg.append("text")
    .attr("x", 280.5)
    .attr("y", 515.5)
    .attr("text-anchor", "middle")
    .style("font-size", "13px")
    .text(xLabel)

svg.append("text")
    .attr("transform", "translate(16.5, 263) rotate(-90)")
    .attr("text-anchor", "middle")
    .style("font-size", "13px")
    .text(yLabel)

// legend
const legend = svg.append("g")
legend.append("rect")
    .attr("x", 415.5).attr("y", 39.5)
    .attr("width", 104).attr("height", 70.5)
    .attr("fill", "#fff")
    .attr("stroke", "#262626")

const legendY = [53.5, 75.8, 98]
legend.append("path")
    .attr("d", "M-2.5,-2.5L2.5,2.5M-2.5,2.5L2.5,-2.5")
    .attr("transform", `translate(444.5, ${legendY[0]})`)
    .attr("stroke", "#6f6fff").attr("fill", "none")
legend.append("path")
    .attr("d", "M-2.5,-2.5L2.5,2.5M-2.5,2.5L2.5,-2.5")
    .attr("transform", `translate(444.5, ${legendY[1]})`)
    .attr("stroke", "#ff6f6f").attr("fill", "none")
legend.append("line")
    .attr("x1", 424).attr("x2", 466)
    .attr("y1", legendY[2]).attr("y2", legendY[2])
    .attr("stroke", "#00ff00")
    .attr("stroke-width", 5.5)

legend.selectAll("text.lab")
    .data(legendNames)
    .enter()
    .append("text")
    .attr("class", "lab")
    .attr("x", 470.5)
    .attr("y", (d, i) => legendY[i] + 5.2)
    .style("font-size", "13px")
    .text(d => d)
</script>
</body>
</html>
